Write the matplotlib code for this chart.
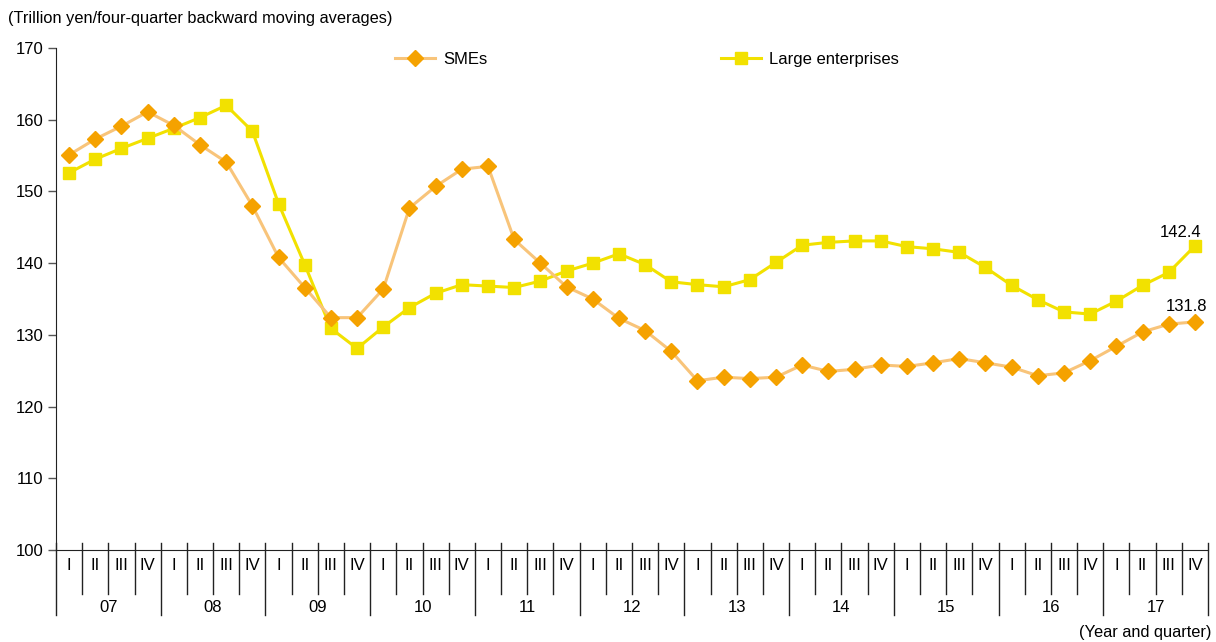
import numpy as np
import matplotlib
matplotlib.use("Agg")
import matplotlib.pyplot as plt

plt.rcParams['font.family'] = ['Liberation Sans', 'DejaVu Sans']

# quarterly data 2007 Q1 .. 2017 Q4 (trillion yen, 4-quarter backward moving avg)
years = ['07', '08', '09', '10', '11', '12', '13', '14', '15', '16', '17']
quarters = ['I', 'II', 'III', 'IV']

smes = [155.1, 157.3, 159.1, 161.1, 159.2, 156.5, 154.1, 148.0,
        140.8, 136.6, 132.4, 132.4, 136.4, 147.7, 150.7, 153.1,
        153.5, 143.3, 140.0, 136.7, 135.0, 132.3, 130.6, 127.7,
        123.6, 124.1, 123.9, 124.1, 125.8, 124.9, 125.2, 125.8,
        125.6, 126.1, 126.7, 126.1, 125.5, 124.3, 124.7, 126.4,
        128.4, 130.4, 131.5, 131.8]

large = [152.6, 154.5, 156.0, 157.4, 158.8, 160.3, 162.0, 158.4,
         148.3, 139.8, 130.9, 128.1, 131.1, 133.8, 135.8, 137.0,
         136.8, 136.6, 137.5, 138.9, 140.0, 141.3, 139.8, 137.4,
         137.0, 136.7, 137.7, 140.1, 142.5, 142.9, 143.1, 143.1,
         142.3, 142.0, 141.5, 139.4, 136.9, 134.9, 133.2, 132.9,
         134.7, 136.9, 138.7, 142.4]

x = np.arange(len(smes))

fig = plt.figure(figsize=(12.16, 6.42), dpi=100)
ax = fig.add_axes([56/1216, 1-550/642, 1152/1216, 502/642])

ax.plot(x, smes, color='#F8C47A', lw=2.2, marker='D', ms=8,
        mfc='#F5A200', mec='#F5A200', label='SMEs', zorder=3)
ax.plot(x, large, color='#F2E100', lw=2.2, marker='s', ms=9,
        mfc='#F2E100', mec='#F2E100', label='Large enterprises', zorder=2)

ax.set_xlim(-0.5, len(x) - 0.5)
ax.set_ylim(100, 170)
ax.set_yticks(range(100, 171, 10))
ax.tick_params(axis='y', length=6, width=1, color='#555555', labelsize=12, pad=3)
ax.set_xticks([])
for s in ['top', 'right']:
    ax.spines[s].set_visible(False)
ax.spines['left'].set_color('#222222')
ax.spines['bottom'].set_color('#222222')

# quarter / year axis drawn by hand
trans = ax.get_xaxis_transform()
for i in range(len(x) + 1):
    xb = i - 0.5
    bottom = -0.1295 if i % 4 == 0 else -0.0876
    ax.plot([xb, xb], [0.014, bottom], color='#222222', lw=1,
            transform=trans, clip_on=False)
for i in range(len(x)):
    ax.text(i, -0.030, quarters[i % 4], transform=trans, ha='center',
            va='center', fontsize=12)
for k, yr in enumerate(years):
    ax.text(4*k + 1.5, -0.1155, yr, transform=trans, ha='center',
            va='center', fontsize=12)

fig.text(1211/1216, 1-633/642, '(Year and quarter)', ha='right', va='center', fontsize=11.8)
fig.text(8/1216, 1-19/642, '(Trillion yen/four-quarter backward moving averages)',
         ha='left', va='center', fontsize=11.8)

ax.annotate('142.4', (x[-1], large[-1]), xytext=(-10, 9.5), textcoords='offset points',
            ha='center', va='center', fontsize=12)
ax.annotate('131.8', (x[-1], smes[-1]), xytext=(-6, 11), textcoords='offset points',
            ha='center', va='center', fontsize=12)

fig.legend(loc='upper left', bbox_to_anchor=(395/1216, 1-52/642), ncol=2,
           frameon=False, fontsize=12, handlelength=2.4, handletextpad=0.5,
           columnspacing=14.0, borderpad=0, borderaxespad=0)

fig.savefig('out.png', dpi=100)
